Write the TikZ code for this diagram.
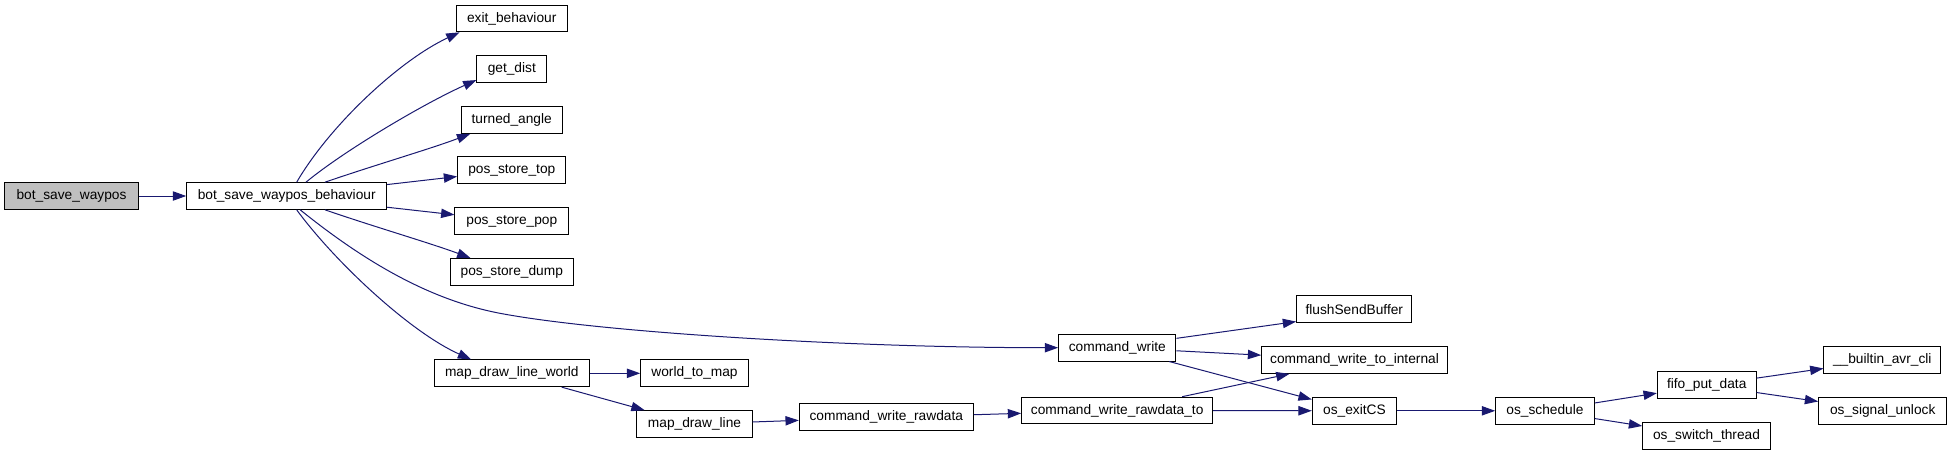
\documentclass[tikz,border=0pt]{standalone}
\usepackage{fontspec}
\setmainfont{Liberation Sans}
\usetikzlibrary{arrows.meta,calc}
\definecolor{edgeblue}{HTML}{191970}
\definecolor{hlgray}{HTML}{BFBFBF}
\begin{document}
\begin{tikzpicture}[x=0.75pt,y=-0.75pt,
  fn/.style={draw=black, line width=0.75pt, minimum height=20pt, inner sep=0pt, font=\fontsize{10.3}{12}\selectfont},
  ed/.style={draw=edgeblue, line width=0.75pt, -{Triangle[length=10pt,width=7pt]}}]
\useasboundingbox (0,0) rectangle (1952,455);
% nodes
\node[fn, fill=hlgray, minimum width=100.2pt] (bsw) at (71.5,196) {bot\_save\_waypos};
\node[fn, minimum width=150pt] (beh) at (286.7,196) {bot\_save\_waypos\_behaviour};
\node[fn, minimum width=83.5pt] (exit) at (511.7,18.5) {exit\_behaviour};
\node[fn, minimum width=52.3pt] (dist) at (511.8,69.2) {get\_dist};
\node[fn, minimum width=75.5pt] (turn) at (511.7,120) {turned\_angle};
\node[fn, minimum width=81.2pt] (top) at (511.8,170.3) {pos\_store\_top};
\node[fn, minimum width=85.3pt] (pop) at (511.8,221.2) {pos\_store\_pop};
\node[fn, minimum width=92.3pt] (dump) at (511.8,271.8) {pos\_store\_dump};
\node[fn, minimum width=116.3pt] (mdlw) at (511.8,373.3) {map\_draw\_line\_world};
\node[fn, minimum width=80.7pt] (w2m) at (694.5,373.3) {world\_to\_map};
\node[fn, minimum width=86.3pt] (mdl) at (694.5,424) {map\_draw\_line};
\node[fn, minimum width=130.5pt] (cwr) at (886.3,417.3) {command\_write\_rawdata};
\node[fn, minimum width=88pt] (cw) at (1117.3,347.7) {command\_write};
\node[fn, minimum width=143.3pt] (cwrt) at (1117.2,410.5) {command\_write\_rawdata\_to};
\node[fn, minimum width=86.5pt] (fsb) at (1354.3,309.2) {flushSendBuffer};
\node[fn, minimum width=139.2pt] (cwti) at (1354.5,360) {command\_write\_to\_internal};
\node[fn, minimum width=63.3pt] (exitcs) at (1354.5,410.8) {os\_exitCS};
\node[fn, minimum width=74pt] (sched) at (1545,410.8) {os\_schedule};
\node[fn, minimum width=74pt] (fifo) at (1706.7,385.3) {fifo\_put\_data};
\node[fn, minimum width=95.7pt] (osst) at (1706.5,436) {os\_switch\_thread};
\node[fn, minimum width=87.5pt] (cli) at (1882.3,360) {\_\_builtin\_avr\_cli};
\node[fn, minimum width=96pt] (osu) at (1882.7,410.8) {os\_signal\_unlock};
% edges
\draw[ed] (bsw) -- (beh);
\draw[ed] ($(beh.north)+(10,0)$) .. controls (330,125) and (400,60) .. ($(exit.south west)+(4,0)$);
\draw[ed] ($(beh.north)+(19.3,0)$) .. controls (345,150) and (425,103) .. ($(dist.south west)+(0,-3)$);
\draw[ed] ($(beh.north)+(38.3,0)$) .. controls (375,165) and (430,149) .. ($(turn.south west)+(9.4,0)$);
\draw[ed] (beh) -- (top);
\draw[ed] (beh) -- (pop);
\draw[ed] ($(beh.south)+(38.3,0)$) .. controls (375,227) and (430,243) .. ($(dump.north west)+(20.7,0)$);
\draw[ed] ($(beh.south)+(13.5,0)$) .. controls (365,262) and (430,300) .. (500,313.3) .. controls (600,332.3) and (850,347.7) .. (cw.west);
\draw[ed] ($(beh.south)+(10,0)$) .. controls (335,262) and (410,332) .. ($(mdlw.north west)+(37.4,0)$);
\draw[ed] (mdlw) -- (w2m);
\draw[ed] (mdlw) -- (mdl);
\draw[ed] (mdl) -- (cwr);
\draw[ed] (cwr) -- (cwrt);
\draw[ed] (cw.9) -- (fsb.192.5);
\draw[ed] (cw) -- (cwti);
\draw[ed] (cw) -- (exitcs);
\draw[ed] (cwrt) -- (cwti);
\draw[ed] (cwrt) -- (exitcs);
\draw[ed] (exitcs) -- (sched);
\draw[ed] (sched) -- (fifo);
\draw[ed] (sched) -- (osst);
\draw[ed] (fifo) -- (cli);
\draw[ed] (fifo) -- (osu);
\end{tikzpicture}
\end{document}
